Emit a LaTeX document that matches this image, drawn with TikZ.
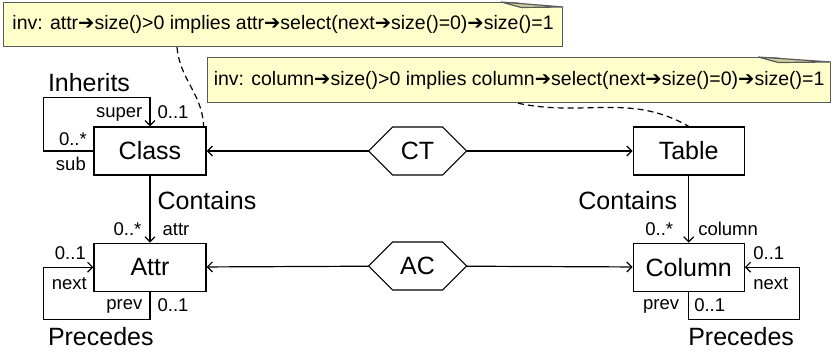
\documentclass[tikz,border=0pt]{standalone}
\usepackage{fontspec}
\setmainfont{Liberation Sans}
\newfontfamily\arrowfont{DejaVu Sans}
\usetikzlibrary{
  arrows.meta,
  positioning,
  calc
}
\definecolor{noteYellow}{RGB}{255,255,204}
\definecolor{noteEdge}{RGB}{90,90,90}
\definecolor{noteFold}{RGB}{205,205,160}
\newcommand{\ra}{{\arrowfont\symbol{"2794}}}
\newcommand{\bigTxt}{\fontsize{25}{30}\selectfont}
\newcommand{\smallTxt}{\fontsize{18.5}{22}\selectfont}
\newcommand{\noteTxt}{\fontsize{19.5}{23}\selectfont}
\newcommand{\noteFold}[2]{
  \fill[white] ([xshift=-#2,yshift=1pt]#1.north east) -- ([xshift=1pt,yshift=1pt]#1.north east)
    -- ([xshift=1pt,yshift=-5pt]#1.north east) -- cycle;
  \draw[noteEdge, fill=noteFold] ([xshift=-#2]#1.north east) -- ([yshift=-5pt]#1.north east)
    -- ([xshift=-#2+20pt,yshift=-5.5pt]#1.north east) -- cycle;
}
\newcommand{\assocHex}[1]{
  \draw (#1.west) -- ([xshift=24pt]#1.north west) -- ([xshift=-24pt]#1.north east)
    -- (#1.east) -- ([xshift=-24pt]#1.south east) -- ([xshift=24pt]#1.south west) -- cycle;
}
\tikzset{
  cls/.style={draw, fill=white, minimum width=112pt, minimum height=48pt,
    inner sep=0pt, font=\bigTxt},
  assoc/.style={minimum width=98pt, minimum height=48pt,
    inner sep=0pt, outer sep=0pt, font=\bigTxt},
  note/.style={draw=noteEdge, fill=noteYellow, inner sep=0pt,
    anchor=north west, font=\noteTxt},
  role/.style={font=\smallTxt, inner sep=0pt},
  rel/.style={font=\bigTxt, inner sep=0pt},
  dashline/.style={dash pattern=on 6pt off 4pt}
}

\begin{document}
\begin{tikzpicture}[
    >={Straight Barb[length=5pt,width=10pt]},
    line width=1.2pt,
    x=1pt, y=1pt
  ]
  \useasboundingbox (0,0) rectangle (831,-351);

  % notes
  \node[note, minimum width=559pt, minimum height=44pt] (attrNote) at (3,-2)
    {inv: attr\ra size()>0 implies attr\ra select(next\ra size()=0)\ra size()=1};
  \noteFold{attrNote}{62pt}
  \node[note, minimum width=623pt, minimum height=45pt] (colNote) at (207,-57)
    {inv: column\ra size()>0 implies column\ra select(next\ra size()=0)\ra size()=1};
  \noteFold{colNote}{73pt}

  % classes and associations
  \node[cls] (Class) at (150,-151) {Class};
  \node[assoc] (CT) [right=162pt of Class] {CT};
  \node[cls, minimum width=111pt] (Table) [right=166pt of CT] {Table};
  \node[cls] (Attr) [below=67pt of Class] {Attr};
  \node[assoc] (AC) [below=67pt of CT] {AC};
  \node[cls, minimum width=111pt] (Column) [below=67pt of Table] {Column};
  \assocHex{CT}
  \assocHex{AC}

  \path[->]
  (CT) edge (Class)
       edge (Table)
  (AC) edge (Attr)
       edge (Column)
  (Class) edge (Attr)
  (Table) edge (Column)
  ;

  % constraints
  \draw[dashline] ([xshift=174pt]attrNote.south west)
    to[out=-85, in=92] ([xshift=-3pt]Class.north east);
  \draw[dashline] ([xshift=311pt]colNote.south west)
    to[out=-12, in=150] (Table.north);

  % Inherits
  \draw[->] (Class.west) -| ([xshift=-50pt,yshift=29pt]Class.north west) -| (Class.north);
  \node[rel, anchor=base west] (inhLbl) at ([xshift=-46pt,yshift=35pt]Class.north west) {Inherits};
  \node[role, anchor=base east] (superLbl) at ([xshift=-7pt,yshift=8.5pt]Class.north) {super};
  \node[role, anchor=base west] (superMul) at ([xshift=7pt,yshift=7.5pt]Class.north) {0..1};
  \node[role, anchor=base east] (subMul) at ([xshift=-6pt,yshift=6pt]Class.west) {0..*};
  \node[role, anchor=base east] (subLbl) at ([xshift=-7pt,yshift=-19pt]Class.west) {sub};

  % Contains
  \node[rel, anchor=base west] (ctsA) at ([xshift=7pt,yshift=-34pt]Class.south) {Contains};
  \node[role, anchor=base east] (attrMul) at ([xshift=-8pt,yshift=7.5pt]Attr.north) {0..*};
  \node[role, anchor=base west] (attrLbl) at ([xshift=12pt,yshift=7.5pt]Attr.north) {attr};
  \node[rel, anchor=base east] (ctsB) at ([xshift=-11pt,yshift=-34pt]Table.south) {Contains};
  \node[role, anchor=base east] (colMul) at ([xshift=-15pt,yshift=7.5pt]Column.north) {0..*};
  \node[role, anchor=base west] (colLbl) at ([xshift=9pt,yshift=7.5pt]Column.north) {column};

  % Precedes (Attr)
  \draw[->] (Attr.south) |- ([xshift=-50pt,yshift=-28pt]Attr.south west) |- (Attr.west);
  \node[role, anchor=base east] (nextMulA) at ([xshift=-7pt,yshift=7.5pt]Attr.west) {0..1};
  \node[role, anchor=base east] (nextLblA) at ([xshift=-6pt,yshift=-22pt]Attr.west) {next};
  \node[role, anchor=base east] (prevLblA) at ([xshift=-7pt,yshift=-18pt]Attr.south) {prev};
  \node[role, anchor=base west] (prevMulA) at ([xshift=7pt,yshift=-19.5pt]Attr.south) {0..1};
  \node[rel, anchor=base west] (precA) at ([xshift=-46pt,yshift=-54pt]Attr.south west) {Precedes};

  % Precedes (Column)
  \draw[->] (Column.south) |- ([xshift=55pt,yshift=-28pt]Column.south east) |- (Column.east);
  \node[role, anchor=base west] (nextMulB) at ([xshift=8pt,yshift=7.5pt]Column.east) {0..1};
  \node[role, anchor=base west] (nextLblB) at ([xshift=8pt,yshift=-22pt]Column.east) {next};
  \node[role, anchor=base east] (prevLblB) at ([xshift=-9pt,yshift=-18pt]Column.south) {prev};
  \node[role, anchor=base west] (prevMulB) at ([xshift=5pt,yshift=-19.5pt]Column.south) {0..1};
  \node[rel, anchor=base west] (precB) at ([xshift=-1pt,yshift=-54pt]Column.south) {Precedes};
\end{tikzpicture}
\end{document}
